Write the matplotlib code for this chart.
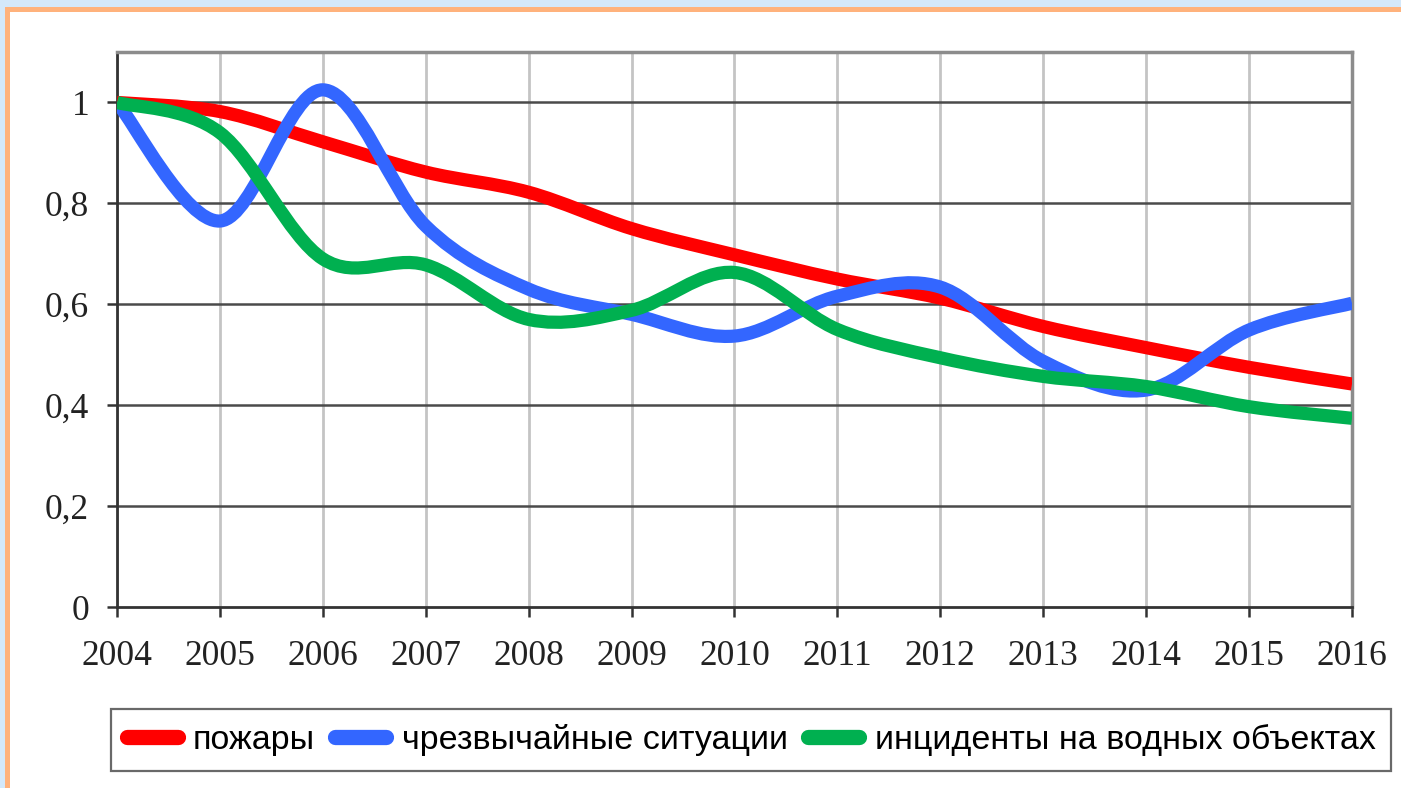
import numpy as np
import matplotlib.pyplot as plt
from matplotlib.path import Path
from matplotlib.patches import PathPatch, Rectangle
from matplotlib.lines import Line2D

# Data (relative values, 2004 = 1)
years = [2004, 2005, 2006, 2007, 2008, 2009, 2010, 2011, 2012, 2013, 2014, 2015, 2016]
fires = [1.0, 0.982, 0.922, 0.862, 0.822, 0.75, 0.698, 0.65, 0.612, 0.556, 0.514, 0.475, 0.442]
emergencies = [1.0, 0.765, 1.025, 0.755, 0.63, 0.58, 0.537, 0.616, 0.634, 0.487, 0.43, 0.549, 0.602]
water = [1.0, 0.94, 0.69, 0.678, 0.57, 0.588, 0.663, 0.55, 0.494, 0.457, 0.437, 0.397, 0.374]

labels = ['пожары', 'чрезвычайные ситуации', 'инциденты на водных объектах']
colors = ['#ff0000', '#3366ff', '#00b050']
y_ticks = [0, 0.2, 0.4, 0.6, 0.8, 1.0]
y_tick_labels = ['0', '0,2', '0,4', '0,6', '0,8', '1']


def smooth_path(x, y):
    # Excel-like smoothed line: cubic Bezier segments through each point
    pts = np.column_stack([x, y]).astype(float)
    ext = np.vstack([pts[0], pts, pts[-1]])
    verts = [pts[0]]
    codes = [Path.MOVETO]
    for i in range(len(pts) - 1):
        p0, p1, p2, p3 = ext[i], ext[i + 1], ext[i + 2], ext[i + 3]
        c1 = p1 + (p2 - p0) / 6
        c2 = p2 - (p3 - p1) / 6
        verts += [c1, c2, p2]
        codes += [Path.CURVE4] * 3
    return Path(verts, codes)


fig = plt.figure(figsize=(14.01, 7.88), dpi=100)
fig.patch.set_facecolor('white')

# page frame: light blue background and orange border
fig.patches.append(Rectangle((0, 1 - 7 / 788), 1, 7 / 788, transform=fig.transFigure,
                             facecolor='#d4e8fa', edgecolor='none', zorder=0))
fig.patches.append(Rectangle((0, 0), 5 / 1401, 1, transform=fig.transFigure,
                             facecolor='#d4e8fa', edgecolor='none', zorder=0))
fig.patches.append(Rectangle((5 / 1401, 1 - 12 / 788), 1, 5 / 788, transform=fig.transFigure,
                             facecolor='#ffb27c', edgecolor='none', zorder=1))
fig.patches.append(Rectangle((5 / 1401, 0), 5 / 1401, 1 - 7 / 788, transform=fig.transFigure,
                             facecolor='#ffb27c', edgecolor='none', zorder=1))

ax = fig.add_axes([117 / 1401, 1 - 607 / 788, (1352 - 117) / 1401, (607 - 52) / 788])
ax.set_xlim(2004, 2016)
ax.set_ylim(0, 1.1)

# grid
for yr in years:
    ax.axvline(yr, color='#c4c4c4', lw=2, zorder=1)
for v in y_ticks[1:]:
    ax.axhline(v, color='#4a4a4a', lw=1.8, zorder=1)

for vals, c in zip([fires, emergencies, water], colors):
    ax.add_patch(PathPatch(smooth_path(years, vals), facecolor='none', edgecolor=c,
                           lw=9.5, capstyle='butt', joinstyle='round', zorder=3))

ax.set_xticks(years)
ax.set_xticklabels([str(y) for y in years])
ax.set_yticks(y_ticks)
ax.set_yticklabels(y_tick_labels)
for lab in ax.get_xticklabels() + ax.get_yticklabels():
    lab.set_fontfamily('Liberation Serif')
    lab.set_fontsize(25.5)
    lab.set_color('#222222')
ax.tick_params(axis='x', direction='out', length=7, width=1.8, color='#333333', pad=17)
ax.tick_params(axis='y', direction='out', length=7, width=1.8, color='#333333', pad=13)

for side in ['left', 'bottom']:
    ax.spines[side].set_color('#333333')
    ax.spines[side].set_linewidth(2)
for side in ['top', 'right']:
    ax.spines[side].set_color('#8c8c8c')
    ax.spines[side].set_linewidth(2.5)

handles = [Line2D([], [], color=c, lw=11, solid_capstyle='round') for c in colors]
leg = fig.legend(handles, labels, loc='center', bbox_to_anchor=(751 / 1401, 1 - 740 / 788),
                 ncol=3, frameon=True, fancybox=False, prop={'family': 'Liberation Sans', 'size': 24.5},
                 handlelength=1.5, handletextpad=0.45, columnspacing=0.6, borderpad=0.45)
leg.get_frame().set_edgecolor('#444444')
leg.get_frame().set_linewidth(1.6)

fig.savefig('out.png', dpi=100)
